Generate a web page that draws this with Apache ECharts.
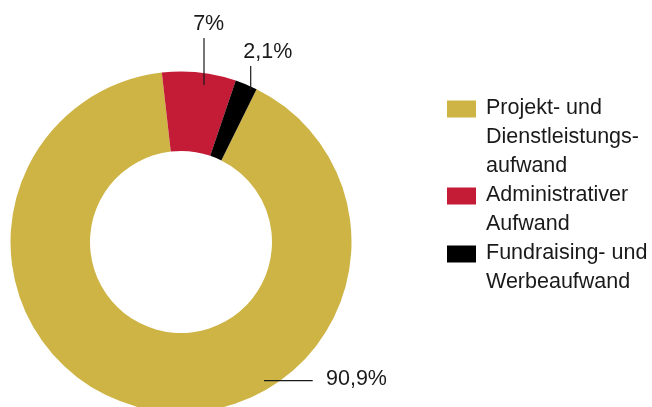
<!DOCTYPE html>
<html><head><meta charset="utf-8">
<script src="https://cdn.jsdelivr.net/npm/echarts@6/dist/echarts.min.js"></script>
<style>html,body{margin:0;padding:0;background:#fff}#c{width:652px;height:407px}</style>
</head><body><div id="c"></div>
<script>
// ---- data ----
const categories = ['Projekt- und\nDienstleistungs-\naufwand', 'Administrativer\nAufwand', 'Fundraising- und\nWerbeaufwand'];
const values = [90.9, 7, 2.1];
const colors = ['#CDB445', '#C41B36', '#000000'];

// ---- layout / style ----
const FONT = '"Liberation Sans", Arial, Helvetica, sans-serif';
const TEXT = '#1a1a1a';
const labelSpots = [
  { x: 326, y: 379.5, align: 'left', line: [[264, 380.7], [312.7, 380.7]] },
  { x: 208.7, y: 23.7, align: 'center', line: [[204, 85], [204, 38]] },
  { x: 267.8, y: 52.2, align: 'center', line: [[250.7, 90], [250.7, 66]] }
];
const legendTops = [93.5, 180.5, 238.5];
const LINE_H = 29;

const legends = categories.map((name, i) => {
  const h = name.split('\n').length * LINE_H;
  return {
    data: [name], orient: 'vertical', left: 447, top: legendTops[i], padding: 0,
    itemWidth: 29, itemHeight: h, itemGap: 0,
    icon: 'path://M0,0L29,0M0,7H29V24H0Z M0,' + h + 'L29,' + h,
    symbolKeepAspect: true,
    itemStyle: { borderWidth: 0 },
    selectedMode: false,
    textStyle: { fontFamily: FONT, fontSize: 21.5, lineHeight: LINE_H, color: TEXT, padding: [0, 0, 0, 5] }
  };
});

const pieData = categories.map((n, i) => ({ name: n, value: values[i] }));
const pieBase = {
  type: 'pie',
  center: [181, 242],
  radius: [91, 170.5],
  startAngle: 63.7,
  clockwise: true,
  avoidLabelOverlap: false,
  emphasis: { disabled: true },
  data: pieData
};

const chart = echarts.init(document.getElementById('c'), null, { renderer: 'canvas' });
chart.setOption({
  animation: false,
  backgroundColor: '#fff',
  color: colors,
  legend: legends,
  series: [
    Object.assign({}, pieBase, {
      z: 2,
      itemStyle: { borderWidth: 0 },
      label: { show: false },
      labelLine: { show: false }
    }),
    // overlay carrying the value labels so their leader lines sit above the ring
    Object.assign({}, pieBase, {
      z: 5,
      silent: true,
      itemStyle: { color: 'rgba(0,0,0,0)', borderWidth: 0 },
      label: {
        show: true, position: 'outside',
        fontFamily: FONT, fontSize: 21.5, color: TEXT,
        formatter: p => String(p.value).replace('.', ',') + '%'
      },
      labelLine: { show: true, lineStyle: { color: TEXT, width: 1.2 } },
      labelLayout: p => {
        const s = labelSpots[p.dataIndex];
        return { x: s.x, y: s.y, align: s.align, verticalAlign: 'middle', labelLinePoints: s.line };
      }
    })
  ]
});
</script>
</body></html>
